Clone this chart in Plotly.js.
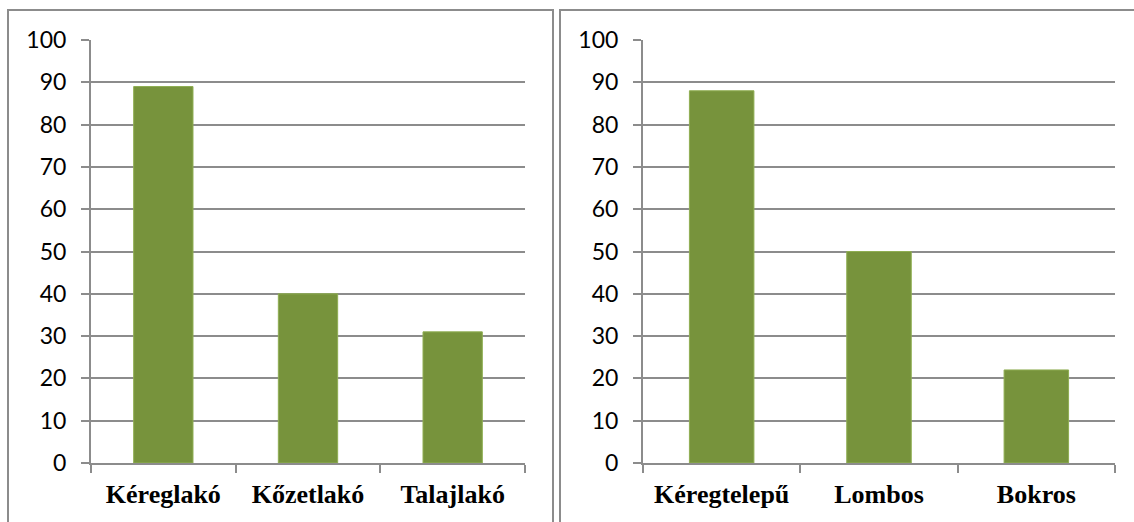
<!DOCTYPE html>
<html>
<head>
<meta charset="utf-8">
<script src="https://cdn.plot.ly/plotly-3.0.1.min.js"></script>
<style>html,body{margin:0;padding:0;background:#fff;}#chart{width:1134px;height:522px;}</style>
</head>
<body>
<div id="chart"></div>
<script>
// Data
const leftCategories = ["Kéreglakó", "Kőzetlakó", "Talajlakó"];
const leftValues = [89, 40, 31];
const rightCategories = ["Kéregtelepű", "Lombos", "Bokros"];
const rightValues = [88, 50, 22];
const yTickValues = [0, 10, 20, 30, 40, 50, 60, 70, 80, 90, 100];

const W = 1134, H = 522;
const fx = p => p / W;
const fy = p => 1 - p / H;

const barColor = '#77933C';
const gray = '#8c8c8c';

const traces = [
  {type: 'bar', x: leftCategories, y: leftValues, xaxis: 'x', yaxis: 'y',
   marker: {color: barColor, line: {color: '#8fae52', width: 1}}, hoverinfo: 'x+y'},
  {type: 'bar', x: rightCategories, y: rightValues, xaxis: 'x2', yaxis: 'y2',
   marker: {color: barColor, line: {color: '#8fae52', width: 1}}, hoverinfo: 'x+y'}
];

const yAxisBase = {
  range: [0, 100], tickvals: yTickValues, ticktext: yTickValues.map(String),
  showgrid: true, gridcolor: gray, gridwidth: 2,
  zeroline: false,
  showline: true, linecolor: gray, linewidth: 2,
  ticks: 'outside', ticklen: 8, tickwidth: 2, tickcolor: gray,
  ticklabelstandoff: 10,
  tickfont: {family: 'Lato, sans-serif', size: 23, color: '#000'},
  fixedrange: true
};
const xAxisBase = {
  type: 'category',
  showline: true, linecolor: gray, linewidth: 2,
  showgrid: false, zeroline: false,
  ticks: 'outside', tickson: 'boundaries', ticklen: 8, tickwidth: 2, tickcolor: gray,
  ticklabelstandoff: 7,
  tickfont: {family: '"Liberation Serif", "Times New Roman", serif', size: 26, color: '#000', weight: 'bold'},
  fixedrange: true
};

const layout = {
  width: W, height: H,
  margin: {l: 0, r: 0, t: 0, b: 0},
  paper_bgcolor: '#fff', plot_bgcolor: '#fff',
  showlegend: false,
  bargap: 0.59,
  xaxis: Object.assign({}, xAxisBase, {domain: [fx(91), fx(525)], anchor: 'y'}),
  yaxis: Object.assign({}, yAxisBase, {domain: [fy(463), fy(40)], anchor: 'x'}),
  xaxis2: Object.assign({}, xAxisBase, {domain: [fx(643), fx(1115)], anchor: 'y2'}),
  yaxis2: Object.assign({}, yAxisBase, {domain: [fy(463), fy(40)], anchor: 'x2'}),
  shapes: [
    {type: 'rect', xref: 'paper', yref: 'paper', x0: fx(8), x1: fx(553), y0: fy(540), y1: fy(10),
     line: {color: gray, width: 2}, fillcolor: 'rgba(0,0,0,0)', layer: 'below'},
    {type: 'rect', xref: 'paper', yref: 'paper', x0: fx(560), x1: fx(1150), y0: fy(540), y1: fy(10),
     line: {color: gray, width: 2}, fillcolor: 'rgba(0,0,0,0)', layer: 'below'}
  ]
};

Plotly.newPlot('chart', traces, layout, {displayModeBar: false, staticPlot: true});
</script>
</body>
</html>
